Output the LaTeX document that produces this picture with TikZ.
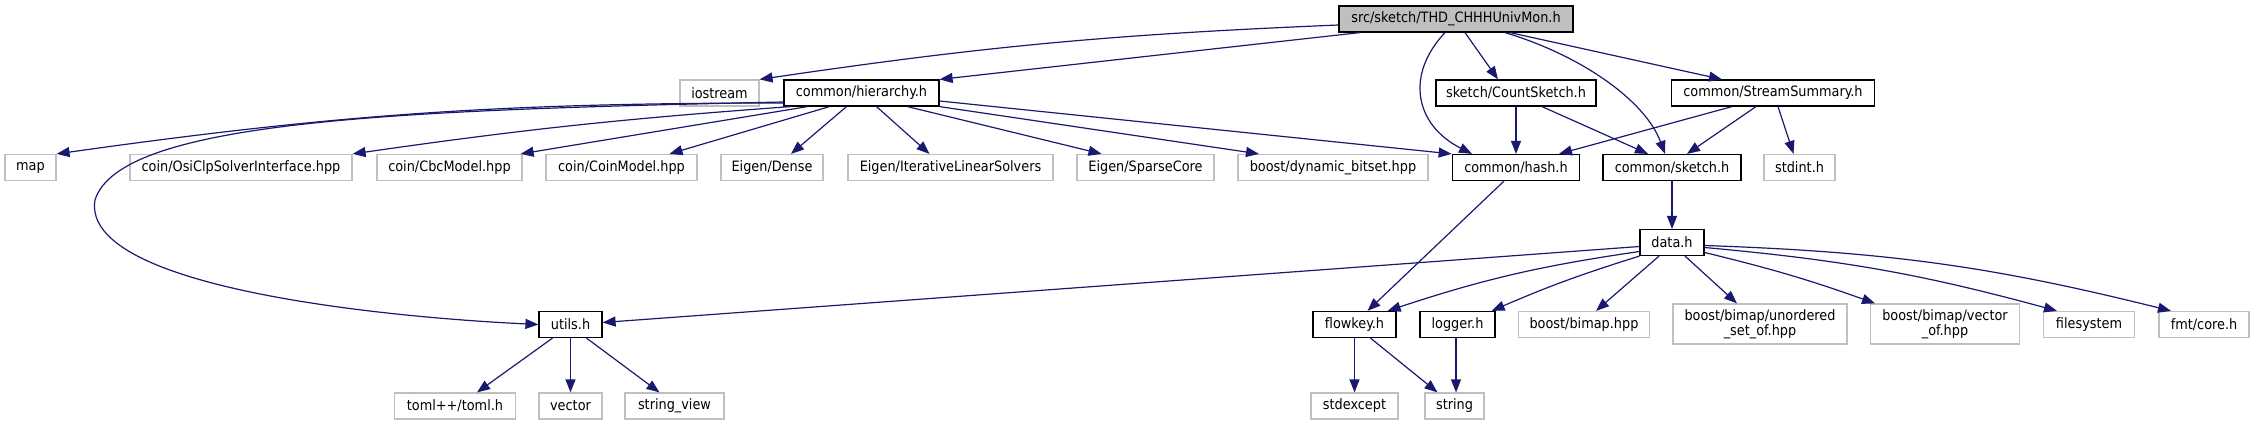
\documentclass[tikz,border=0pt]{standalone}
\usepackage{fontspec}
\setmainfont{DejaVu Sans Condensed}
\usetikzlibrary{arrows.meta}
\definecolor{edgeblue}{HTML}{191970}
\definecolor{extgray}{HTML}{BFBFBF}
\begin{document}
\begin{tikzpicture}[x=1pt,y=-1pt,
  box/.style={rectangle, inner sep=0pt, minimum height=26pt, line width=1.2pt,
    font=\fontsize{14.3}{15}\selectfont, align=center, text=black},
  doc/.style={box, draw=black, fill=white},
  ext/.style={box, draw=extgray, fill=white},
  topnode/.style={box, draw=black, fill=extgray},
  edge/.style={draw=edgeblue, line width=1.2pt, -{Triangle[length=13pt,width=10pt]}}]
\useasboundingbox (0,0) rectangle (2254,425);
% nodes
\node[topnode, minimum width=234pt] (top) at (1456,19) {src/sketch/THD\_CHHHUnivMon.h};
\node[ext, minimum width=79pt] (iostream) at (719.5,93) {iostream};
\node[doc, minimum width=155pt] (hier) at (861.5,93) {common/hierarchy.h};
\node[doc, minimum width=160pt] (cs) at (1516,93) {sketch/CountSketch.h};
\node[doc, minimum width=203.5pt] (ss) at (1773,93) {common/StreamSummary.h};
\node[ext, minimum width=51pt] (map) at (30.5,167.5) {map};
\node[ext, minimum width=222pt] (osi) at (241,167.5) {coin/OsiClpSolverInterface.hpp};
\node[ext, minimum width=145pt] (cbc) at (449.5,167.5) {coin/CbcModel.hpp};
\node[ext, minimum width=151pt] (coin) at (621.5,167.5) {coin/CoinModel.hpp};
\node[ext, minimum width=102pt] (dense) at (772,167.5) {Eigen/Dense};
\node[ext, minimum width=205pt] (iter) at (950.5,167.5) {Eigen/IterativeLinearSolvers};
\node[ext, minimum width=137pt] (sparse) at (1145.5,167.5) {Eigen/SparseCore};
\node[ext, minimum width=190pt] (bitset) at (1333,167.5) {boost/dynamic\_bitset.hpp};
\node[doc, minimum width=127.5pt] (hash) at (1516,167.5) {common/hash.h};
\node[doc, minimum width=138pt] (sketch) at (1672,167.5) {common/sketch.h};
\node[ext, minimum width=71pt] (stdint) at (1799.5,167.5) {stdint.h};
\node[doc, minimum width=64pt] (data) at (1672,242.5) {data.h};
\node[doc, minimum width=63pt] (utils) at (570.5,324.5) {utils.h};
\node[doc, minimum width=83pt] (flowkey) at (1354.5,324.5) {flowkey.h};
\node[doc, minimum width=75pt] (logger) at (1457.5,324.5) {logger.h};
\node[ext, minimum width=130.5pt] (bimap) at (1584,324.5) {boost/bimap.hpp};
\node[ext, minimum width=174pt, minimum height=40pt] (unord) at (1760,324) {boost/bimap/unordered\\\_set\_of.hpp};
\node[ext, minimum width=148.5pt, minimum height=40pt] (vecof) at (1945,324) {boost/bimap/vector\\\_of.hpp};
\node[ext, minimum width=90.5pt] (fs) at (2089,324.5) {filesystem};
\node[ext, minimum width=90pt] (fmt) at (2204,324.5) {fmt/core.h};
\node[ext, minimum width=120.5pt] (toml) at (455,406) {toml++/toml.h};
\node[ext, minimum width=63pt] (vector) at (570.5,406) {vector};
\node[ext, minimum width=99pt] (sview) at (674.5,406) {string\_view};
\node[ext, minimum width=87pt] (stdexcept) at (1354.5,406) {stdexcept};
\node[ext, minimum width=59pt] (string) at (1454.5,406) {string};
\coordinate (ubend) at (95,200);
% edges from top
\draw[edge] ([yshift=-6pt]top.west) to[bend right=3] (iostream.north east);
\draw[edge] ([xshift=-96pt]top.south) -- (hier.north east);
\draw[edge] ([xshift=-11pt]top.south) .. controls (1405,75) and (1415,125) .. ([xshift=-44pt]hash.north);
\draw[edge] ([xshift=9pt]top.south) -- ([xshift=-18pt]cs.north);
\draw[edge] ([xshift=49pt]top.south) .. controls (1580,55) and (1645,100) .. ([xshift=-7pt]sketch.north);
\draw[edge] ([xshift=54pt]top.south) -- ([xshift=-51pt]ss.north);
% edges from hierarchy
\draw[edge] ([yshift=-10pt]hier.west) to[bend right=4] (map.north east);
\draw[edge] ([yshift=-9pt]hier.west) .. controls (400,110) and (120,120) .. (ubend) .. controls (80,290) and (400,318) .. (utils.west);
\draw[edge] ([xshift=-71pt]hier.south) to[bend right=2] (osi.north east);
\draw[edge] ([xshift=-54pt]hier.south) -- ([xshift=-2pt]cbc.north east);
\draw[edge] ([xshift=-32pt]hier.south) -- ([xshift=48pt]coin.north);
\draw[edge] ([xshift=-15pt]hier.south) -- ([xshift=19pt]dense.north);
\draw[edge] ([xshift=15pt]hier.south) -- ([xshift=-21pt]iter.north);
\draw[edge] ([xshift=46pt]hier.south) -- ([xshift=-44pt]sparse.north);
\draw[edge] (hier.south east) -- ([xshift=-74pt]bitset.north);
\draw[edge] ([yshift=-8pt]hier.east) -- (hash.north west);
% CountSketch, StreamSummary
\draw[edge] (cs.south) -- (hash.north);
\draw[edge] ([xshift=26pt]cs.south) -- ([xshift=-24pt]sketch.north);
\draw[edge] ([xshift=-41pt]ss.south) -- ([xshift=43pt]hash.north);
\draw[edge] ([xshift=-17pt]ss.south) -- ([xshift=15pt]sketch.north);
\draw[edge] ([xshift=5pt]ss.south) -- ([xshift=-6pt]stdint.north);
% hash, sketch
\draw[edge] ([xshift=-12pt]hash.south) -- ([xshift=13pt]flowkey.north);
\draw[edge] (sketch.south) -- (data.north);
% data
\draw[edge] ([yshift=-4pt]data.west) -- ([yshift=2pt]utils.east);
\draw[edge] ([yshift=-9pt]data.west) to[bend right=5] ([xshift=-9pt]flowkey.north east);
\draw[edge] (data.south west) to[bend right=3] ([xshift=-4pt]logger.north east);
\draw[edge] ([xshift=-13pt]data.south) -- ([xshift=12pt]bimap.north);
\draw[edge] ([xshift=13pt]data.south) -- ([xshift=-23pt]unord.north);
\draw[edge] ([yshift=-10pt]data.east) to[bend left=3] ([xshift=-70pt]vecof.north);
\draw[edge] ([yshift=-5pt]data.east) to[bend left=5] ([xshift=-32pt]fs.north);
\draw[edge] ([yshift=-3pt]data.east) to[bend left=6] ([xshift=-33pt]fmt.north);
% utils, flowkey, logger
\draw[edge] ([xshift=-18pt]utils.south) -- ([xshift=22pt]toml.north);
\draw[edge] (utils.south) -- (vector.north);
\draw[edge] ([xshift=16pt]utils.south) -- ([xshift=-15pt]sview.north);
\draw[edge] (flowkey.south) -- (stdexcept.north);
\draw[edge] ([xshift=16pt]flowkey.south) -- ([xshift=-17pt]string.north);
\draw[edge] ([xshift=-1.5pt]logger.south) -- ([xshift=1.5pt]string.north);
\end{tikzpicture}
\end{document}
